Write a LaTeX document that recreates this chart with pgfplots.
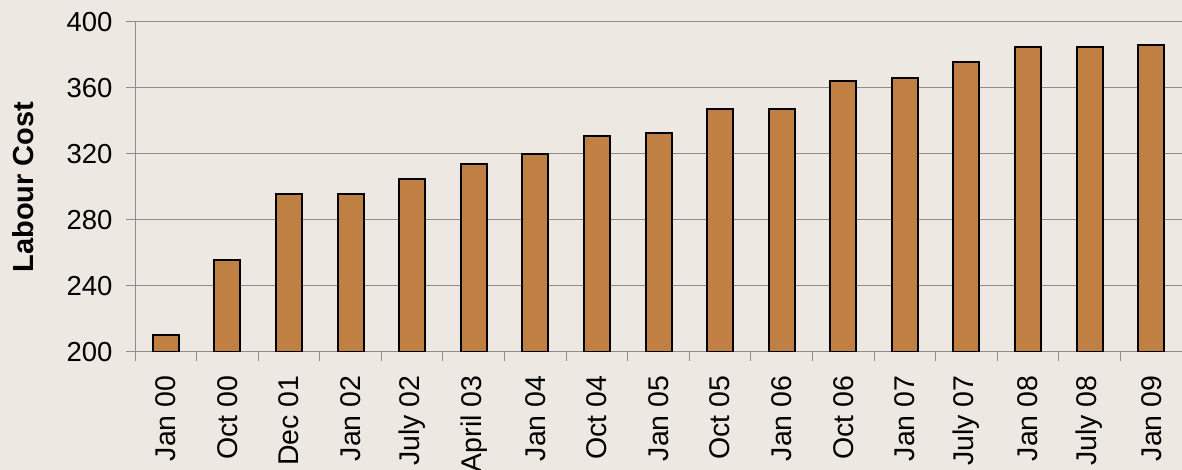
\documentclass[border=0pt]{standalone}
\usepackage{pgfplots}
\pgfplotsset{compat=1.18}
\usepackage{fontspec}
\setmainfont{Liberation Sans}
\definecolor{bg}{RGB}{237,233,226}
\definecolor{barc}{RGB}{192,128,68}
\definecolor{gridc}{RGB}{140,140,140}
\begin{document}
\begin{tikzpicture}
\useasboundingbox (0pt,0pt) rectangle (1182pt,470pt);
\clip (0pt,0pt) rectangle (1182pt,470pt);
\fill[bg] (0pt,0pt) rectangle (1182pt,470pt);
\begin{axis}[
  at={(135pt,118pt)}, anchor=south west,
  width=1047pt, height=330pt, scale only axis,
  xmin=-0.5, xmax=16.5, ymin=200, ymax=400,
  ytick={200,240,...,400},
  xtick={-0.5,0.5,...,16.5},
  x tick label as interval,
  xticklabels={Jan 00,Oct 00,Dec 01,Jan 02,July 02,April 03,Jan 04,Oct 04,Jan 05,Oct 05,Jan 06,Oct 06,Jan 07,July 07,Jan 08,July 08,Jan 09},
  axis x line*=bottom, axis y line*=left,
  axis line style={draw=gridc, line width=1pt},
  ymajorgrids, grid style={draw=gridc, line width=1pt},
  tick align=outside, major tick length=9pt,
  tick style={draw=gridc, line width=1pt},
  /pgf/number format/assume math mode=true,
  yticklabel style={font=\fontsize{27.5}{30}\selectfont, text=black, xshift=-10pt},
  xticklabel style={font=\fontsize{28.5}{31}\selectfont, text=black, rotate=90, anchor=east, xshift=-11pt},
  ylabel={Labour Cost},
  ylabel style={at={(axis description cs:-0.107,0.5)}, anchor=center, font=\fontsize{29}{32}\selectfont\bfseries},
  ybar, bar width=26pt, bar shift=0pt,
  clip=true,
]
\addplot[fill=barc, draw=black, line width=2pt] coordinates {
(0,210) (1,256) (2,296) (3,296) (4,305) (5,314) (6,320) (7,331) (8,333)
(9,347) (10,347) (11,364) (12,366) (13,376) (14,385) (15,385) (16,386)
};
\end{axis}
\end{tikzpicture}
\end{document}
